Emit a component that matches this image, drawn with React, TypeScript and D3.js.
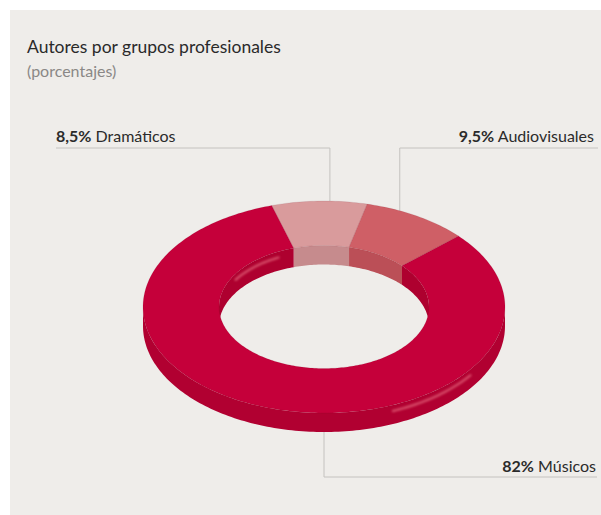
import React from "react";
import * as d3 from "d3";

const categories = ["Dramáticos", "Audiovisuales", "Músicos"];
const values = [8.5, 9.5, 82];
const valueLabels = ["8,5%", "9,5%", "82%"];
const topColors = ["#d99b9c", "#cf5f66", "#c5003a"];
const innerWallColors = ["#c68b8d", "#bb4f57", "#ae002f"];
const outerWallColors = ["#c68b8d", "#bb4f57", "#b10031"];

const W = 601;
const H = 515;
const cx = 324;
const cy = 307;
const rx = 181;
const ry = 106;
const innerRatio = 0.58;
const depth = 19;
const startDeg = -16.8;

const FONT = "Lato, 'Open Sans', sans-serif";

function px(r: number, a: number) {
  return cx + r * Math.sin(a);
}
function py(r: number, a: number, dz: number) {
  return cy - r * Math.cos(a) + dz;
}

function arcPts(r: number, rY: number, a0: number, a1: number, dz: number) {
  const n = Math.max(2, Math.ceil(Math.abs(a1 - a0) / 0.02));
  const pts: [number, number][] = [];
  for (let i = 0; i <= n; i++) {
    const a = a0 + ((a1 - a0) * i) / n;
    pts.push([px(r, a), py(rY, a, dz)]);
  }
  return pts;
}

function intersect(a0: number, a1: number, v0: number, v1: number) {
  const out: [number, number][] = [];
  for (let k = -2; k <= 2; k++) {
    const lo = Math.max(a0, v0 + 2 * Math.PI * k);
    const hi = Math.min(a1, v1 + 2 * Math.PI * k);
    if (hi > lo) out.push([lo, hi]);
  }
  return out;
}

const line = d3.line();

function wallPath(r: number, rY: number, a0: number, a1: number) {
  const top = arcPts(r, rY, a0, a1, 0);
  const bot = arcPts(r, rY, a1, a0, depth);
  return line([...top, ...bot]) + "Z";
}

function topPath(a0: number, a1: number) {
  const outer = arcPts(rx, ry, a0, a1, 0);
  const inner = arcPts(rx * innerRatio, ry * innerRatio, a1, a0, 0);
  return line([...outer, ...inner]) + "Z";
}

function highlightPath(r: number, rY: number, a0: number, a1: number, dz: number) {
  return line(arcPts(r, rY, a0, a1, dz)) || "";
}

export default function App() {
  const start = (startDeg * Math.PI) / 180;
  const pie = d3
    .pie<number>()
    .sort(null)
    .startAngle(start)
    .endAngle(start + 2 * Math.PI);
  const arcs = pie(values);
  const rIn = rx * innerRatio;
  const ryIn = ry * innerRatio;

  const innerWalls: JSX.Element[] = [];
  const outerWalls: JSX.Element[] = [];
  arcs.forEach((d, i) => {
    intersect(d.startAngle, d.endAngle, -Math.PI / 2, Math.PI / 2).forEach(([lo, hi], j) => {
      innerWalls.push(
        <path key={`iw${i}-${j}`} d={wallPath(rIn, ryIn, lo, hi)} fill={innerWallColors[i]} />
      );
    });
    intersect(d.startAngle, d.endAngle, Math.PI / 2, (3 * Math.PI) / 2).forEach(([lo, hi], j) => {
      outerWalls.push(
        <path key={`ow${i}-${j}`} d={wallPath(rx, ry, lo, hi)} fill={outerWallColors[i]} />
      );
    });
  });

  const textColor = "#2b2b2b";
  const lineColor = "#c4c2bf";

  const at = (i: number, f: number) => arcs[i].startAngle + f * (arcs[i].endAngle - arcs[i].startAngle);
  const aDram = at(0, 0.61);
  const aAud = at(1, 0.32);
  const dramX = px(rx, aDram);
  const dramY = py(ry, aDram, 0);
  const audX = px(rx, aAud);
  const audY = py(ry, aAud, 0);
  const musA = Math.PI;
  const musX = px(rx, musA);
  const musY = py(ry, musA, depth);

  return (
    <svg
      width={W}
      height={H}
      style={{ position: "absolute", left: 0, top: 0, display: "block" }}
      fontFamily={FONT}
    >
      <defs>
        <filter id="blur" x="-20%" y="-50%" width="140%" height="200%">
          <feGaussianBlur stdDeviation="1.3" />
        </filter>
      </defs>
      <rect x={0} y={0} width={W} height={H} fill="#ffffff" />
      <rect x={10} y={10} width={W - 10} height={H - 10} fill="#efedea" />

      <text x={27} y={53} fontSize={17.5} fill="#2a2a2a">
        Autores por grupos profesionales
      </text>
      <text x={27} y={77} fontSize={16} fill="#8a8886">
        (porcentajes)
      </text>

      <polyline
        points={`56,148 ${dramX},148 ${dramX},${dramY}`}
        fill="none"
        stroke={lineColor}
        strokeWidth={1}
      />
      <polyline
        points={`598,148 ${audX},148 ${audX},${audY}`}
        fill="none"
        stroke={lineColor}
        strokeWidth={1}
      />
      <polyline
        points={`${musX},${musY} ${musX},477 597,477`}
        fill="none"
        stroke={lineColor}
        strokeWidth={1}
      />

      {innerWalls}
      {outerWalls}

      <path
        d={highlightPath(rIn, ryIn, -1.0, -0.45, 6)}
        fill="none"
        stroke="#ee7a8a"
        strokeWidth={2.5}
        strokeLinecap="round"
        opacity={0.6}
        filter="url(#blur)"
      />
      <path
        d={highlightPath(rx, ry, 2.2, 2.75, 6)}
        fill="none"
        stroke="#ee7a8a"
        strokeWidth={2.5}
        strokeLinecap="round"
        opacity={0.6}
        filter="url(#blur)"
      />

      {arcs.map((d, i) => (
        <path
          key={`top${i}`}
          d={topPath(d.startAngle, d.endAngle)}
          fill={topColors[i]}
          stroke="rgba(90,0,20,0.12)"
          strokeWidth={0.8}
        />
      ))}

      <text x={56} y={142} fontSize={16} fill={textColor}>
        <tspan fontWeight="bold">{valueLabels[0]}</tspan>
        <tspan> {categories[0]}</tspan>
      </text>
      <text x={594} y={142} fontSize={16} fill={textColor} textAnchor="end">
        <tspan fontWeight="bold">{valueLabels[1]}</tspan>
        <tspan> {categories[1]}</tspan>
      </text>
      <text x={596} y={472} fontSize={16} fill={textColor} textAnchor="end">
        <tspan fontWeight="bold">{valueLabels[2]}</tspan>
        <tspan> {categories[2]}</tspan>
      </text>
    </svg>
  );
}
